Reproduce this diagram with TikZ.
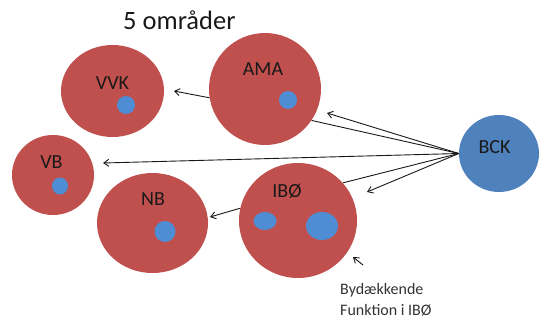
\documentclass[tikz,border=0pt]{standalone}
\usepackage{fontspec}
\setmainfont{Carlito}
\usetikzlibrary{calc,arrows.meta,shapes.geometric,positioning}
\definecolor{areared}{RGB}{192,80,77}
\definecolor{bckblue}{RGB}{79,129,189}
\definecolor{dotblue}{RGB}{78,140,212}

\begin{document}
\begin{tikzpicture}[x=1pt,y=-1pt,>={Straight Barb[length=5pt,width=7pt]}]

\tikzset{area/.style={shape=ellipse,fill=areared,inner sep=0pt},
dot/.style={shape=ellipse,fill=dotblue,inner sep=0pt},
areaname/.style={anchor=base,font=\fontsize{20}{22}\selectfont,text=black!90},
link/.style={->,line width=0.9pt,draw=black!90},
plainlink/.style={line width=0.9pt,draw=black!90}}

\useasboundingbox (0,0) rectangle (540,321);

% Title
\node[anchor=base west,inner sep=0pt,font=\fontsize{26.5}{28}\selectfont,text=black!90] (title) at (123,30) {5 områder};

% Areas
\node[area,minimum width=103pt,minimum height=92pt] (vvk) at (112.5,91) {};
\node[area,minimum width=112pt,minimum height=112pt] (ama) at (265,89) {};
\node[area,minimum width=82pt,minimum height=80pt] (vb) at (53,175) {};
\node[area,minimum width=111pt,minimum height=100pt] (nb) at (152.5,223) {};
\node[area,minimum width=118pt,minimum height=115pt] (ibo) at (298,220.5) {};
\node[area,fill=bckblue,minimum width=80pt,minimum height=77pt] (bck) at (499,153.5) {};

% Area names
\node[areaname] (vvkName) at (112.5,89) {VVK};
\node[areaname] (amaName) at (263,75) {AMA};
\node[areaname] (vbName) at (51.5,168) {VB};
\node[areaname] (nbName) at (153,205) {NB};
\node[areaname] (iboName) at (287,197) {IBØ};
\node[areaname] (bckName) at (494.5,153) {BCK};

% Inner dots
\node[dot,minimum width=18pt,minimum height=18pt] (vvkDot) at (126,105) {};
\node[dot,minimum width=18pt,minimum height=18pt] (amaDot) at (288,100) {};
\node[dot,minimum width=16pt,minimum height=17pt] (vbDot) at (60,186) {};
\node[dot,minimum width=21pt,minimum height=21pt] (nbDot) at (165,231.5) {};
\node[dot,minimum width=23pt,minimum height=18pt] (iboDot1) at (265,221) {};
\node[dot,minimum width=32pt,minimum height=28pt] (iboDot2) at (322,226) {};

% Arrow ends
\coordinate (vvkTip) at (174,91);
\coordinate (amaTip) at (327,113);
\coordinate (vbTip) at (103,163);
\coordinate (iboTip) at (367,192);
\coordinate (nbTip) at (210,217);
\coordinate (noteFrom) at (363,265);
\coordinate (noteTip) at (353,257);

% Arrows
\draw[link] (ama.189) -- (vvkTip);
\draw[link] (bck.west) -- (amaTip); \draw[plainlink] (bck.west) -- (ama.-34);
\draw[link] (bck.west) -- (vbTip);
\draw[plainlink] (bck.west) -- (ibo.40); \draw[link] (bck.west) -- (iboTip);
\draw[link] (ibo.168) -- (nbTip);
\draw[link] (noteFrom) -- (noteTip);

% Note
\node[align=left,anchor=base west,inner sep=0pt,font=\fontsize{16}{21}\selectfont,text=black!80] (note) at (340,315) {Bydækkende\\Funktion i IBØ};

\end{tikzpicture}
\end{document}
